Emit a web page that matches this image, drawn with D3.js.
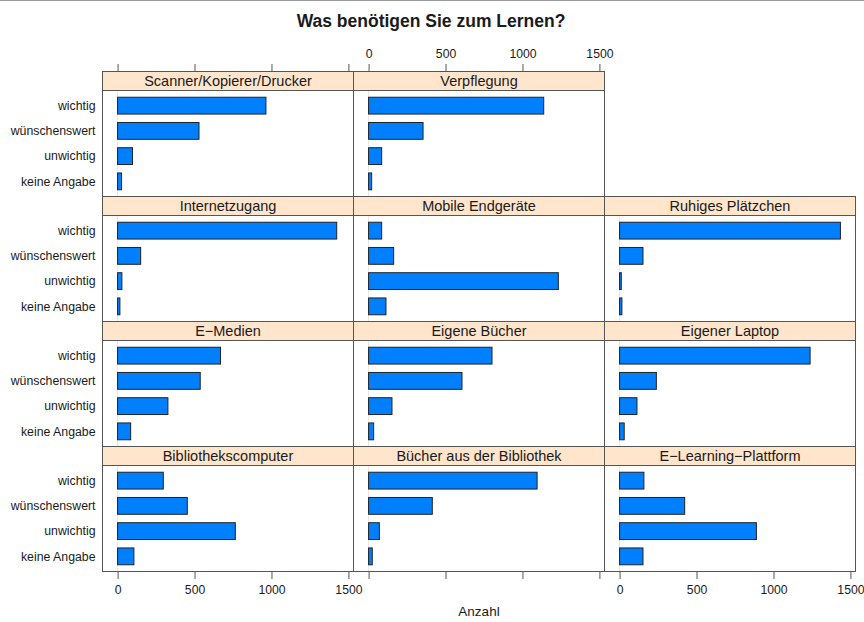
<!DOCTYPE html>
<html>
<head>
<meta charset="utf-8">
<script src="https://cdn.jsdelivr.net/npm/d3@7"></script>
<style>
  body { margin: 0; background: #fff; }
  svg { display: block; font-family: "Liberation Sans", Arial, sans-serif; }
</style>
</head>
<body>
<svg id="chart" width="864" height="622"></svg>
<script>
// panels in lattice order (filled from bottom-left, left to right)
const panels = [
  'Bibliothekscomputer', 'Bücher aus der Bibliothek', 'E\u2212Learning\u2212Plattform',
  'E\u2212Medien', 'Eigene Bücher', 'Eigener Laptop',
  'Internetzugang', 'Mobile Endgeräte', 'Ruhiges Plätzchen',
  'Scanner/Kopierer/Drucker', 'Verpflegung',
];
// answer levels, top to bottom
const levels = ['wichtig', 'wünschenswert', 'unwichtig', 'keine Angabe'];
// counts per panel, same order as levels
const counts = [
  [297, 453, 765, 106],
  [1095, 414, 70, 24],
  [158, 423, 889, 152],
  [669, 537, 327, 85],
  [802, 607, 152, 33],
  [1238, 239, 113, 30],
  [1424, 150, 28, 15],
  [85, 163, 1233, 113],
  [1435, 152, 11, 15],
  [964, 529, 97, 26],
  [1138, 354, 85, 20],
];
const xTicks = [0, 500, 1000, 1500];

const svg = d3.select('#chart');
const nCols = 3, nRows = 4;
const colLeft = 102.5, colW = 251;
const rowTop = 71.5, rowH = 125, stripH = 19;
const line = '#555';
const ink = '#1a1a1a';

svg.append('line')
  .attr('x1', 0).attr('x2', 864).attr('y1', 0.5).attr('y2', 0.5)
  .attr('stroke', '#999');

svg.append('text')
  .attr('x', 431).attr('y', 26.5)
  .attr('text-anchor', 'middle')
  .attr('font-size', 17.5).attr('font-weight', 'bold')
  .attr('fill', ink)
  .text('Was benötigen Sie zum Lernen?');

function xScale(col) {
  const x0 = colLeft + col * colW;
  return d3.scaleLinear().domain([-98, 1533]).range([x0, x0 + colW]);
}

function styleAxis(s) {
  s.select('.domain').remove();
  s.selectAll('line').attr('stroke', line);
  s.selectAll('text').attr('font-size', 12.2).attr('fill', ink)
    .attr('font-family', '"Liberation Sans", Arial, sans-serif');
}

panels.forEach((name, i) => {
  const col = i % nCols;
  const row = nRows - 1 - Math.floor(i / nCols);
  const x = xScale(col);
  const top = rowTop + row * rowH;
  const pTop = top + stripH, pBot = top + rowH;
  const y = d3.scaleLinear().domain([0.4, 4.6]).range([pBot, pTop]);
  const g = svg.append('g');

  // reference line at origin
  g.append('line')
    .attr('x1', x(0)).attr('x2', x(0)).attr('y1', pTop).attr('y2', pBot)
    .attr('stroke', '#e6e6e6');

  g.selectAll('rect.bar')
    .data(counts[i])
    .join('rect')
    .attr('class', 'bar')
    .attr('x', x(0))
    .attr('width', (d) => x(d) - x(0))
    .attr('y', (d, k) => y(4 - k + 1 / 3))
    .attr('height', (d, k) => y(4 - k - 1 / 3) - y(4 - k + 1 / 3))
    .attr('fill', '#0080ff')
    .attr('stroke', '#222')
    .attr('stroke-width', 1);

  // strip
  g.append('rect')
    .attr('x', x.range()[0]).attr('y', top)
    .attr('width', colW).attr('height', stripH)
    .attr('fill', '#ffe5cc').attr('stroke', line);
  g.append('text')
    .attr('x', x.range()[0] + colW / 2).attr('y', top + 14.5)
    .attr('text-anchor', 'middle').attr('font-size', 14.5)
    .attr('fill', ink)
    .text(name);

  g.append('rect')
    .attr('x', x.range()[0]).attr('y', top)
    .attr('width', colW).attr('height', rowH)
    .attr('fill', 'none').attr('stroke', line);

  if (col === 0) {
    g.selectAll('text.lvl')
      .data(levels)
      .join('text')
      .attr('class', 'lvl')
      .attr('x', x.range()[0] - 7)
      .attr('y', (d, k) => y(4 - k) + 4.3)
      .attr('text-anchor', 'end')
      .attr('font-size', 12.3)
      .attr('fill', ink)
      .text((d) => d);
  }

  if (row === 0) {
    const ax = d3.axisTop(x).tickValues(xTicks).tickSize(7.5).tickPadding(6)
      .tickFormat(col === 1 ? d3.format('d') : () => '');
    svg.append('g').attr('transform', `translate(0,${top})`).call(ax).call(styleAxis);
  }
  if (row === nRows - 1) {
    const ax = d3.axisBottom(x).tickValues(xTicks).tickSize(7.5).tickPadding(6)
      .tickFormat(col === 1 ? () => '' : d3.format('d'));
    svg.append('g').attr('transform', `translate(0,${pBot})`).call(ax).call(styleAxis);
  }
});

svg.append('text')
  .attr('x', colLeft + colW * 1.5).attr('y', 616)
  .attr('text-anchor', 'middle').attr('font-size', 13.5)
  .attr('fill', ink)
  .text('Anzahl');
</script>
</body>
</html>
